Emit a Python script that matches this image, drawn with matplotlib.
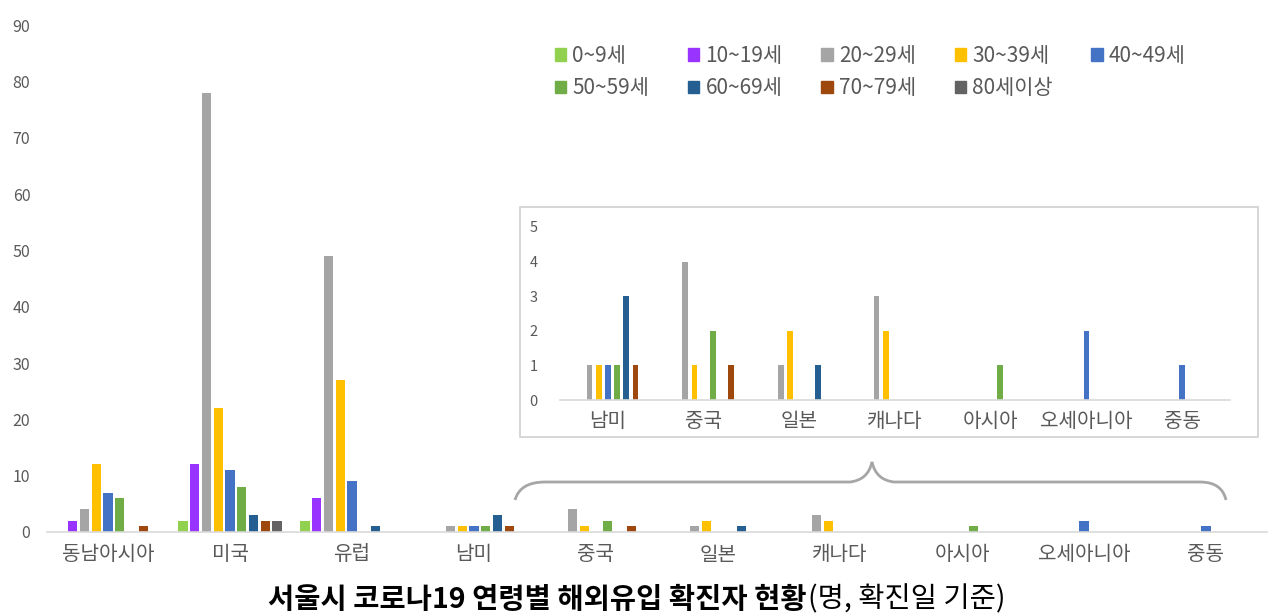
import numpy as np
import matplotlib
matplotlib.use("Agg")
import matplotlib.pyplot as plt
from matplotlib.path import Path
from matplotlib.patches import PathPatch, Rectangle, Patch

plt.rcParams["font.family"] = ["Noto Sans CJK KR", "DejaVu Sans"]

# ------------------------------------------------------------------
# Data
# ------------------------------------------------------------------
regions = ["동남아시아", "미국", "유럽", "남미", "중국", "일본",
           "캐나다", "아시아", "오세아니아", "중동"]
age_groups = ["0~9세", "10~19세", "20~29세", "30~39세", "40~49세",
              "50~59세", "60~69세", "70~79세", "80세이상"]
colors = ["#92D050", "#9933FF", "#A5A5A5", "#FFC000", "#4472C4",
          "#70AD47", "#255E91", "#9E480E", "#636363"]

age_0_9 = [0, 2, 2, 0, 0, 0, 0, 0, 0, 0]
age_10_19 = [2, 12, 6, 0, 0, 0, 0, 0, 0, 0]
age_20_29 = [4, 78, 49, 1, 4, 1, 3, 0, 0, 0]
age_30_39 = [12, 22, 27, 1, 1, 2, 2, 0, 0, 0]
age_40_49 = [7, 11, 9, 1, 0, 0, 0, 0, 2, 1]
age_50_59 = [6, 8, 0, 1, 2, 0, 0, 1, 0, 0]
age_60_69 = [0, 3, 1, 3, 0, 1, 0, 0, 0, 0]
age_70_79 = [1, 2, 0, 1, 1, 0, 0, 0, 0, 0]
age_80_up = [0, 2, 0, 0, 0, 0, 0, 0, 0, 0]
series = [age_0_9, age_10_19, age_20_29, age_30_39, age_40_49,
          age_50_59, age_60_69, age_70_79, age_80_up]

INSET_FROM = 3  # 남미 onwards is magnified in the inset

TXT = "#595959"
AXLINE = "#D9D9D9"

# ------------------------------------------------------------------
# Main chart
# ------------------------------------------------------------------
fig = plt.figure(figsize=(12.79, 6.15), dpi=100)
ax = fig.add_axes([47 / 1279, 83 / 615, 1220 / 1279, 507 / 615])

x = np.arange(len(regions))
step, width = 0.0963, 0.074
for j, (vals, c) in enumerate(zip(series, colors)):
    ax.bar(x + (j - 4) * step, vals, width=width, color=c, label=age_groups[j])

ax.set_xlim(-0.5, len(regions) - 0.5)
ax.set_ylim(0, 90)
ax.set_yticks(range(0, 91, 10))
ax.set_xticks(x)
ax.set_xticklabels(regions, fontsize=14.5, color=TXT)
ax.tick_params(axis="y", length=0, labelsize=11.5, labelcolor=TXT, pad=12)
ax.tick_params(axis="x", length=0, pad=9)
for s in ["top", "right", "left"]:
    ax.spines[s].set_visible(False)
ax.spines["bottom"].set_color(AXLINE)
ax.spines["bottom"].set_linewidth(1.2)

# legend laid out row by row (matplotlib fills columns first)
order = [0, 5, 1, 6, 2, 7, 3, 8, 4]
handles = [Patch(color=colors[i]) for i in order]
labels = [age_groups[i] for i in order]
leg = fig.legend(handles, labels, ncol=5, frameon=False,
                 loc="upper left", bbox_to_anchor=(536 / 1279, 1 - 26 / 615),
                 handlelength=0.55, handleheight=0.55, handletextpad=0.3,
                 columnspacing=1.85, labelspacing=0.5, fontsize=15)
for t in leg.get_texts():
    t.set_color(TXT)

# ------------------------------------------------------------------
# Inset (magnified small counts)
# ------------------------------------------------------------------
fig.patches.append(Rectangle((520 / 1279, 1 - 437 / 615), 738 / 1279, 230 / 615,
                             transform=fig.transFigure, facecolor="white",
                             edgecolor="#D0D0D0", lw=1.2, zorder=2))
ins = fig.add_axes([560 / 1279, 215 / 615, 670 / 1279, 173 / 615], zorder=3)
ins.patch.set_alpha(0)
xi = np.arange(len(regions) - INSET_FROM)
istep, iwidth = 0.096, 0.06
for j, (vals, c) in enumerate(zip(series, colors)):
    ins.bar(xi + (j - 4) * istep, vals[INSET_FROM:], width=iwidth, color=c)
ins.set_xlim(-0.5, len(xi) - 0.5)
ins.set_ylim(0, 5)
ins.set_yticks(range(0, 6))
ins.set_xticks(xi)
ins.set_xticklabels(regions[INSET_FROM:], fontsize=14.5, color=TXT)
ins.tick_params(axis="y", length=0, labelsize=10.5, labelcolor=TXT, pad=16)
ins.tick_params(axis="x", length=0, pad=8)
for s in ["top", "right", "left"]:
    ins.spines[s].set_visible(False)
ins.spines["bottom"].set_color(AXLINE)
ins.spines["bottom"].set_linewidth(1.2)

# curly brace linking the small-count regions to the inset
def fx(px):
    return px / 1279

def fy(py):
    return 1 - py / 615

verts = [(fx(515), fy(500)), (fx(520), fy(482)), (fx(545), fy(482)),
         (fx(850), fy(482)),
         (fx(868), fy(480)), (fx(872), fy(462)),
         (fx(876), fy(480)), (fx(894), fy(482)),
         (fx(1200), fy(482)),
         (fx(1222), fy(482)), (fx(1226), fy(500))]
codes = [Path.MOVETO, Path.CURVE3, Path.CURVE3, Path.LINETO,
         Path.CURVE3, Path.CURVE3, Path.CURVE3, Path.CURVE3,
         Path.LINETO, Path.CURVE3, Path.CURVE3]
fig.patches.append(PathPatch(Path(verts, codes), transform=fig.transFigure,
                             facecolor="none", edgecolor="#A6A6A6", lw=2))

# ------------------------------------------------------------------
# Title (bold part + plain part), centred as a whole
# ------------------------------------------------------------------
ty = 1 - 614 / 615
t1 = fig.text(0, ty, "서울시 코로나19 연령별 해외유입 확진자 현황",
              fontsize=20.5, fontweight="bold", ha="left", va="bottom", color="black")
t2 = fig.text(0, ty, "(명, 확진일 기준)",
              fontsize=20.5, ha="left", va="bottom", color="black")
fig.canvas.draw()
w1 = t1.get_window_extent().width
w2 = t2.get_window_extent().width
start = 636 - (w1 + w2) / 2
t1.set_x(start / 1279)
t2.set_x((start + w1 + 1) / 1279)

fig.savefig("out.png", dpi=100)
